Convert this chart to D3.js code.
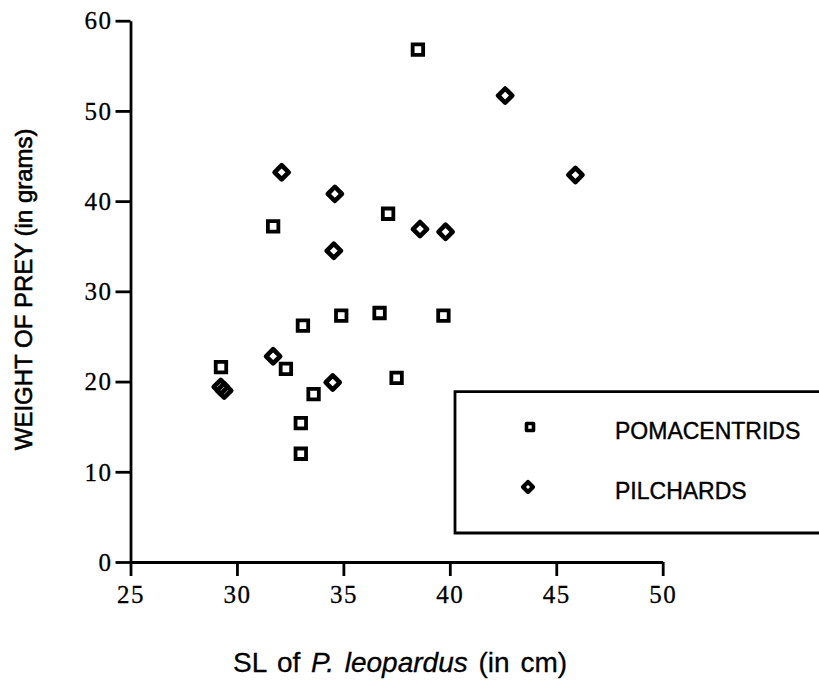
<!DOCTYPE html>
<html>
<head>
<meta charset="utf-8">
<script src="https://cdn.jsdelivr.net/npm/d3@7"></script>
<style>
  html, body { margin: 0; padding: 0; background: #fff; }
  svg { display: block; }
</style>
</head>
<body>
<svg id="chart" width="819" height="680"></svg>
<script>
// ---- data ----
const xTicks = [25, 30, 35, 40, 45, 50];
const yTicks = [0, 10, 20, 30, 40, 50, 60];

const pomacentridsSL = [38.5, 37.1, 31.7, 34.9, 36.7, 39.7, 33.1, 32.3, 29.25, 37.5, 33.6, 33.0, 33.0];
const pomacentridsWt = [56.8, 38.6, 37.2, 27.3, 27.6, 27.3, 26.2, 21.4, 21.6, 20.4, 18.6, 15.4, 12.0];

const pilchardsSL = [42.6, 45.9, 32.1, 34.6, 38.6, 39.8, 34.55, 31.7, 34.5, 29.24, 29.4];
const pilchardsWt = [51.7, 42.9, 43.2, 40.8, 36.9, 36.6, 34.5, 22.8, 19.9, 19.4, 19.0];

const legendLabels = ["POMACENTRIDS", "PILCHARDS"];
const yTitle = "WEIGHT OF PREY (in grams)";

// ---- layout ----
const svg = d3.select("#chart");
const x = d3.scaleLinear().domain([25, 50]).range([130.5, 662.7]);
const y = d3.scaleLinear().domain([0, 60]).range([562, 20.7]);

const ink = "#000";
const serif = "'Liberation Serif', 'Times New Roman', serif";
const sans = "'Liberation Sans', Arial, Helvetica, sans-serif";

// X axis
const xAxis = svg.append("g")
  .attr("transform", `translate(0,${y(0)})`)
  .call(d3.axisBottom(x).tickValues(xTicks).tickSize(14).tickSizeOuter(0).tickPadding(13).tickFormat(d3.format("d")));
// Y axis
const yAxis = svg.append("g")
  .attr("transform", `translate(${x(25)},0)`)
  .call(d3.axisLeft(y).tickValues(yTicks).tickSize(15).tickSizeOuter(0).tickPadding(3).tickFormat(d3.format("d")));

[xAxis, yAxis].forEach(g => {
  g.select(".domain").attr("stroke", ink).attr("stroke-width", 2.8);
  g.selectAll(".tick line").attr("stroke", ink).attr("stroke-width", 2.8);
  g.selectAll(".tick text")
    .attr("fill", ink)
    .attr("stroke", ink)
    .attr("stroke-width", 0.3)
    .style("font-family", serif)
    .style("font-size", "25px")
    .style("letter-spacing", "1.5px");
});
xAxis.selectAll(".tick text").attr("dy", null).attr("y", 41).attr("dominant-baseline", "alphabetic");
yAxis.selectAll(".tick text").attr("dy", "0.33em");

// Axis titles
svg.append("text")
  .attr("transform", `translate(32,${(y(0) + y(60)) / 2 - 2}) rotate(-90)`)
  .attr("text-anchor", "middle")
  .style("font-family", sans)
  .style("font-size", "24px")
  .attr("fill", ink)
  .attr("stroke", ink)
  .attr("stroke-width", 0.6)
  .text(yTitle);

const xt = svg.append("text")
  .attr("x", 400).attr("y", 672)
  .attr("text-anchor", "middle")
  .style("font-family", sans)
  .style("font-size", "28px")
  .style("word-spacing", "3px")
  .attr("fill", ink)
  .attr("stroke", ink)
  .attr("stroke-width", 0.3);
xt.append("tspan").text("SL of ");
xt.append("tspan").style("font-style", "italic").text("P. leopardus");
xt.append("tspan").text(" (in cm)");

// Markers
const squareSym = d3.symbol().type(d3.symbolSquare).size(110);
const diamondSym = d3.symbol().type(d3.symbolSquare).size(100);

svg.append("g").selectAll("path")
  .data(pomacentridsSL.map((v, i) => [v, pomacentridsWt[i]]))
  .join("path")
  .attr("d", squareSym)
  .attr("transform", d => `translate(${x(d[0])},${y(d[1])})`)
  .attr("fill", "none")
  .attr("stroke", ink)
  .attr("stroke-width", 3.8);

svg.append("g").selectAll("path")
  .data(pilchardsSL.map((v, i) => [v, pilchardsWt[i]]))
  .join("path")
  .attr("d", diamondSym)
  .attr("transform", d => `translate(${x(d[0])},${y(d[1])}) rotate(45)`)
  .attr("fill", "none")
  .attr("stroke", ink)
  .attr("stroke-width", 4.6)
  .attr("stroke-linejoin", "round");

// Legend (box open on the right, runs off the page)
svg.append("path")
  .attr("d", "M822,391.7 H455 V533 H822")
  .attr("fill", "none")
  .attr("stroke", ink)
  .attr("stroke-width", 2.8);

const legendSyms = [
  { sym: d3.symbol().type(d3.symbolSquare).size(49), rot: 0, sw: 3.6, cx: 530, cy: 427 },
  { sym: d3.symbol().type(d3.symbolSquare).size(50), rot: 45, sw: 4.2, cx: 528, cy: 487 }
];
const legendTextY = [439, 499];
legendLabels.forEach((lab, i) => {
  const s = legendSyms[i];
  svg.append("path")
    .attr("d", s.sym)
    .attr("transform", `translate(${s.cx},${s.cy}) rotate(${s.rot})`)
    .attr("fill", "none")
    .attr("stroke", ink)
    .attr("stroke-width", s.sw)
    .attr("stroke-linejoin", "round");
  svg.append("text")
    .attr("x", 615).attr("y", legendTextY[i])
    .style("font-family", sans)
    .style("font-size", "23px")
    .attr("fill", ink)
    .attr("stroke", ink)
    .attr("stroke-width", 0.4)
    .text(lab);
});
</script>
</body>
</html>
